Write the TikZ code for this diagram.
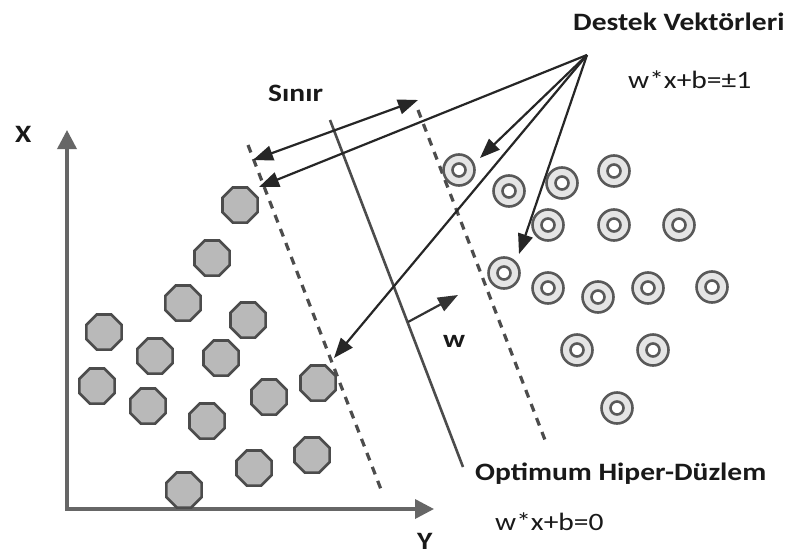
\documentclass[tikz,border=0pt]{standalone}
\usepackage{fontspec}
\setmainfont{Carlito}[FakeStretch=1.18]
\usepackage{xcolor}
\usepackage{tikz}
\usetikzlibrary{arrows.meta,shapes.geometric}

\begin{document}
\begin{tikzpicture}[x=1pt,y=-1pt,>={Triangle[length=20pt,width=15pt]},
  negpt/.style={regular polygon,regular polygon sides=8,minimum size=38pt,inner sep=0pt,
    draw=black!70,fill=gray!55,line width=2.6pt},
  pospt/.style={circle,minimum size=31pt,inner sep=0pt,draw=black!65,fill=gray!20,line width=2.6pt,
    path picture={\draw[black!65,fill=white,line width=2.6pt] (path picture bounding box.center) circle (6.5pt);}},
  marginline/.style={black!70,line width=3.2pt,dash pattern=on 8pt off 7pt},
  vec/.style={->,black!85,line width=2.2pt},
  lbl/.style={font=\fontsize{25}{28}\selectfont\bfseries,text=black!90,inner sep=0pt,anchor=base west},
  eqn/.style={font=\fontsize{25}{28}\selectfont,text=black!90,inner sep=0pt,anchor=base west}]
\fill[white] (0,0) rectangle (794,554);
\useasboundingbox (0,0) rectangle (794,554);

% Axes
\coordinate (O) at (67,509);
\coordinate (xtip) at (67,130);
\coordinate (ytip) at (434,509);
\draw[<->,>={Triangle[length=19pt,width=19pt]},black!60,line width=3.5pt] (xtip) -- (O) -- (ytip);
\node[lbl] (xlab) at (15,142) {X};
\node[lbl] (ylab) at (417,549) {Y};

% Margins and the separating plane
\coordinate (m1a) at (248,145); \coordinate (m1b) at (382,492);
\coordinate (m2a) at (418,110); \coordinate (m2b) at (545,440);
\coordinate (h1) at (330,120);  \coordinate (h2) at (463,467);
\draw[marginline] (m1a) -- (m1b);
\draw[marginline] (m2a) -- (m2b);
\draw[black!70,line width=2.6pt] (h1) -- (h2);

% Class 1 (octagons)
\node[negpt] (n1) at (240,205) {};
\node[negpt] (n2) at (212,258) {};
\node[negpt] (n3) at (183,303) {};
\node[negpt] (n4) at (248,320) {};
\node[negpt] (n5) at (104,332) {};
\node[negpt] (n6) at (155,356) {};
\node[negpt] (n7) at (221,358) {};
\node[negpt] (n8) at (97,386) {};
\node[negpt] (n9) at (148,406) {};
\node[negpt] (n10) at (207,421) {};
\node[negpt] (n11) at (269,397) {};
\node[negpt] (n12) at (318,383) {};
\node[negpt] (n13) at (254,468) {};
\node[negpt] (n14) at (312,455) {};
\node[negpt] (n15) at (184,490) {};

% Class 2 (rings)
\node[pospt] (p1) at (459,170) {};
\node[pospt] (p2) at (509,191) {};
\node[pospt] (p3) at (562,183) {};
\node[pospt] (p4) at (614,171) {};
\node[pospt] (p5) at (548,225) {};
\node[pospt] (p6) at (614,225) {};
\node[pospt] (p7) at (679,225) {};
\node[pospt] (p8) at (504,273) {};
\node[pospt] (p9) at (548,288) {};
\node[pospt] (p10) at (598,297) {};
\node[pospt] (p11) at (648,288) {};
\node[pospt] (p12) at (712,287) {};
\node[pospt] (p13) at (577,350) {};
\node[pospt] (p14) at (653,350) {};
\node[pospt] (p15) at (617,408) {};

% Margin width
\coordinate (s1) at (253,160);
\coordinate (s2) at (418,100);
\draw[<->,black!85,line width=2.2pt] (s1) -- (s2);
\node[lbl] (sinir) at (268,101) {Sınır};

% Support vectors
\coordinate (apex) at (587,55);
\coordinate (t1) at (259,187);
\coordinate (t2) at (480,158);
\coordinate (t3) at (334,358);
\coordinate (t4) at (519,254);
\draw[vec] (apex) -- (t1);
\draw[vec] (apex) -- (t2);
\draw[vec] (apex) -- (t3);
\draw[vec] (apex) -- (t4);
\node[lbl] (sv) at (573,30) {Destek Vektörleri};
\node[eqn] (sveq) at (628,88) {w*x+b=±1};

% Normal vector
\coordinate (w0) at (408,322);
\coordinate (w1) at (458,295);
\draw[->,black!80,line width=2.2pt] (w0) -- (w1);
\node[lbl] (wlab) at (443,347) {w};

\node[lbl] (hp) at (475,480) {Optimum Hiper-Düzlem};
\node[eqn] (hpeq) at (495,530) {w*x+b=0};
\end{tikzpicture}
\end{document}
